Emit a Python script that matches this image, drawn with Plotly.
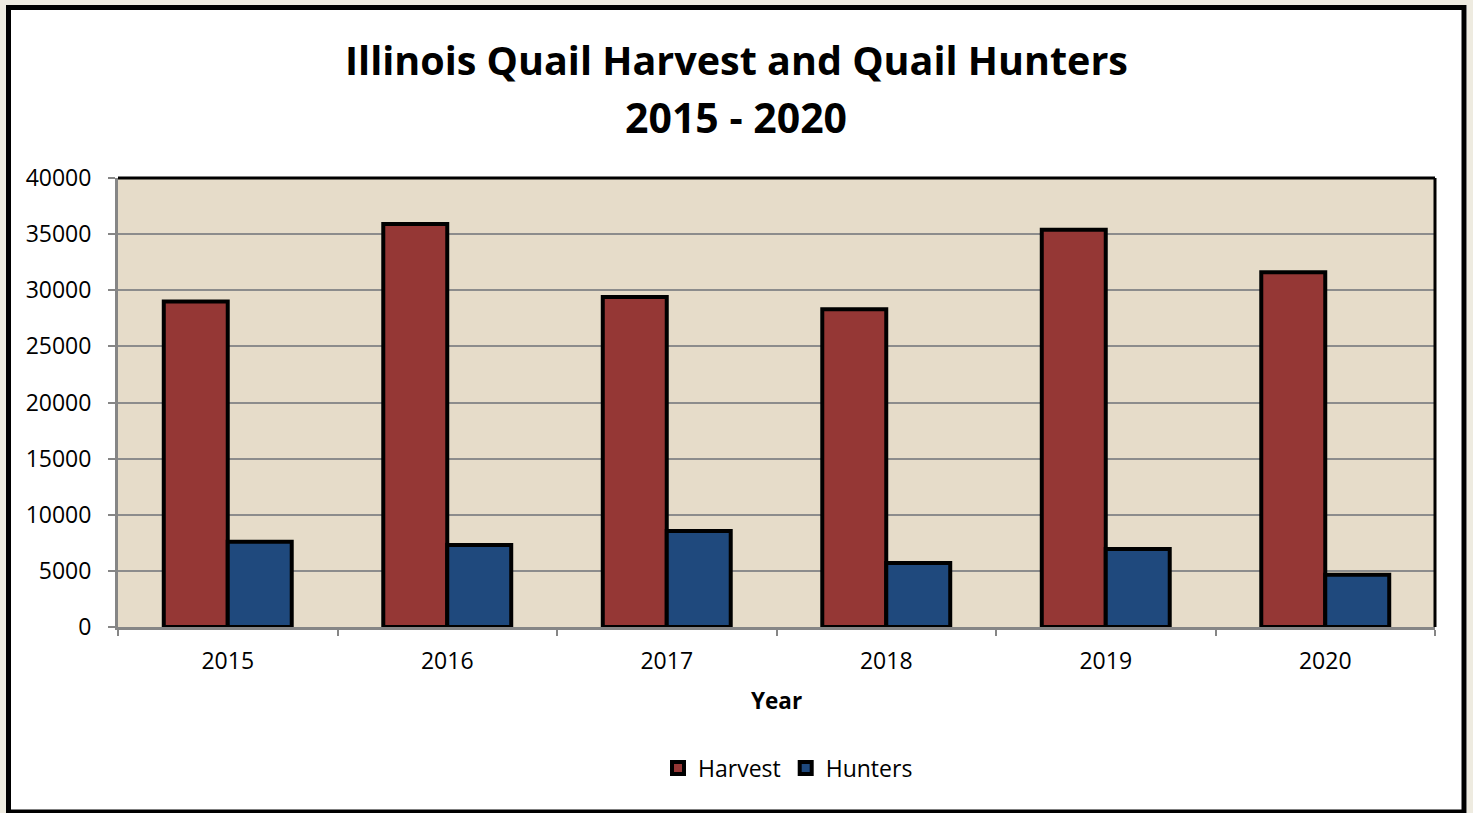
import plotly.graph_objects as go

years = ["2015", "2016", "2017", "2018", "2019", "2020"]
harvest = [29000, 35900, 29400, 28300, 35400, 31600]
hunters = [7600, 7300, 8550, 5700, 6950, 4650]

W, H = 1473, 813
L, R, T, B = 118, 1435, 178, 627
pw, ph = R - L, B - T

def px(x):
    return (x - L) / pw

def py(y):
    return (B - y) / ph

FONT = "Open Sans"
BEIGE = "#EEEBE0"

fig = go.Figure()
fig.add_trace(go.Bar(x=years, y=harvest, name="Harvest",
                     marker=dict(color="#953735", line=dict(color="black", width=4))))
fig.add_trace(go.Bar(x=years, y=hunters, name="Hunters",
                     marker=dict(color="#1F497D", line=dict(color="black", width=4))))

shapes = [
    # beige margins outside the frame
    dict(type="rect", xref="paper", yref="paper", layer="below",
         x0=px(0), x1=px(6), y0=py(0), y1=py(813), fillcolor=BEIGE, line=dict(width=0)),
    dict(type="rect", xref="paper", yref="paper", layer="below",
         x0=px(0), x1=px(1473), y0=py(0), y1=py(5), fillcolor=BEIGE, line=dict(width=0)),
    dict(type="rect", xref="paper", yref="paper", layer="below",
         x0=px(1467), x1=px(1473), y0=py(0), y1=py(813), fillcolor=BEIGE, line=dict(width=0)),
    # outer frame
    dict(type="rect", xref="paper", yref="paper", layer="below",
         x0=px(8.5), x1=px(1464), y0=py(7.5), y1=py(812),
         line=dict(color="black", width=5)),
    # top & right plot border
    dict(type="line", xref="paper", yref="paper", x0=0, x1=1, y0=1, y1=1,
         line=dict(color="black", width=3)),
    dict(type="line", xref="paper", yref="paper", x0=1, x1=1, y0=0, y1=1,
         line=dict(color="black", width=3)),
]

annotations = [
    dict(text="<b>Illinois Quail Harvest and Quail Hunters</b>", xref="paper", yref="paper",
         x=px(736), y=py(60), showarrow=False, xanchor="center", yanchor="middle",
         font=dict(family=FONT, size=39.5, color="black")),
    dict(text="<b>2015 - 2020</b>", xref="paper", yref="paper",
         x=px(736), y=py(117), showarrow=False, xanchor="center", yanchor="middle",
         font=dict(family=FONT, size=41, color="black")),
    dict(text="<b>Year</b>", xref="paper", yref="paper",
         x=px(776), y=py(700), showarrow=False, xanchor="center", yanchor="middle",
         font=dict(family=FONT, size=22.5, color="black")),
]

fig.update_layout(
    width=W, height=H,
    margin=dict(l=L, r=W - R, t=T, b=H - B, pad=0),
    paper_bgcolor="white",
    plot_bgcolor="#E6DCC9",
    barmode="group", bargap=0.417, bargroupgap=0,
    font=dict(family=FONT, size=23, color="black"),
    shapes=shapes, annotations=annotations,
    showlegend=True,
    legend=dict(orientation="h", xanchor="center", yanchor="middle",
                x=px(788), y=py(768), font=dict(family=FONT, size=23),
                bgcolor="rgba(0,0,0,0)", itemwidth=30),
)
fig.update_xaxes(type="category", tickson="boundaries", ticks="outside", ticklen=6,
                 tickcolor="#868686", tickwidth=2, showline=True, linecolor="#868686",
                 linewidth=3, showgrid=False, tickfont=dict(size=23),
                 ticklabelstandoff=11)
fig.update_yaxes(range=[0, 40000], dtick=5000, ticks="outside", ticklen=7,
                 tickcolor="#868686", tickwidth=2, showline=True, linecolor="#868686",
                 linewidth=3, showgrid=True, gridcolor="#8C8C8C", gridwidth=1.5,
                 zeroline=False, tickformat="d", tickfont=dict(size=23),
                 ticklabelstandoff=12)

fig.write_html("out.html", config={"displayModeBar": False},
               post_script="document.body.style.margin='0px';")
